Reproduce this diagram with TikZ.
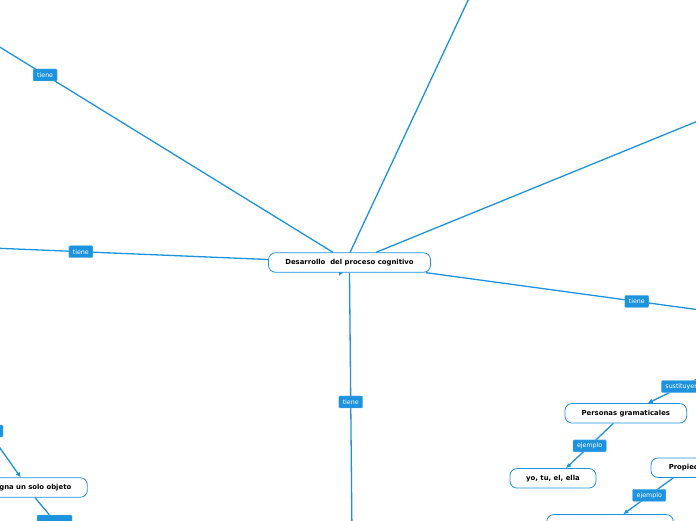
\documentclass[tikz,border=0pt]{standalone}
\usepackage{fontspec}
\setmainfont{DejaVu Sans}
\usetikzlibrary{arrows.meta,calc}
\definecolor{mmblue}{RGB}{29,147,221}

\begin{document}
\begin{tikzpicture}[x=1pt, y=-1pt,
    topic/.style={draw=mmblue, line width=0.8pt, rounded corners=7pt, fill=white, minimum height=19.5pt, inner xsep=2pt, inner ysep=0pt, font=\fontsize{6.9}{8}\selectfont\bfseries},
    lbl/.style={fill=mmblue, draw=mmblue!65!white, line width=0.4pt, rounded corners=1pt, minimum height=12pt, inner xsep=4pt, inner ysep=0pt, text=white, font=\fontsize{6.3}{7}\selectfont},
    link/.style={mmblue, line width=1.3pt},
    arr/.style={link, -{Latex[length=5pt,width=5pt]}}
]
\path[use as bounding box] (0,0) rectangle (696,520);
\clip (0,0) rectangle (696,520);

\coordinate (ul) at (-30,28.7);
\coordinate (up) at (470.5,-5);
\coordinate (tip) at (339,276);
\coordinate (ur) at (720,112);
\coordinate (le) at (-20,247.5);
\coordinate (rd) at (720,312.7);
\coordinate (dn) at (352,535);
\coordinate (sr) at (720,368);

\draw[arr] (up) -- (tip);
\node[topic, minimum width=162pt] (dev) at (349.5,262.5) {Desarrollo~ del proceso cognitivo};

\draw[link] ($(dev.north)+(-16.5,0)$) -- node[lbl, pos=0.793] {tiene} (ul);
\draw[link] ($(dev.north)+(26.5,0)$) -- (ur);
\draw[link] ($(dev.west)+(0,-3)$) -- node[lbl, pos=0.65] {tiene} (le);
\draw[link] ($(dev.south east)+(-5,0)$) -- node[lbl, pos=0.717] {tiene} (rd);
\draw[link] (dev.south) -- node[lbl, pos=0.493] {tiene} (dn);

\node[topic, minimum width=121.7pt] (pg) at (625.8,413.3) {Personas gramaticales};
\node[topic, minimum width=86pt] (yo) at (553,478.3) {yo, tu, el, ella};
\node[topic, minimum width=84pt] (prop) at (693,467.7) {Propiedades};
\node[topic, minimum width=126.6pt] (ej) at (610,524.3) {};

\draw[arr] (sr) -- node[lbl, pos=0.528] {sustituyen} ($(pg.north)+(22,0)$);
\draw[arr] ($(pg.south)+(-12.5,0)$) -- node[lbl, pos=0.5] {ejemplo} ($(yo.north)+(13,0)$);
\draw[arr] ($(prop.south)+(-19.7,0)$) -- node[lbl, pos=0.48] {ejemplo} ($(ej.north)+(13.3,0)$);

\node[lbl, minimum width=30pt] (bl1) at (-12,431) {};
\node[topic, text width=98pt, align=right, inner xsep=16pt] (gna) at (22.3,487.5) {gna un solo objeto};
\node[lbl, minimum width=35pt] (bl2) at (54.5,521) {};
\draw[arr] (bl1) -- ($(gna.north)+(-1.6,0)$);
\draw[link] ($(gna.south)+(12.7,0)$) -- (bl2);
\end{tikzpicture}
\end{document}
